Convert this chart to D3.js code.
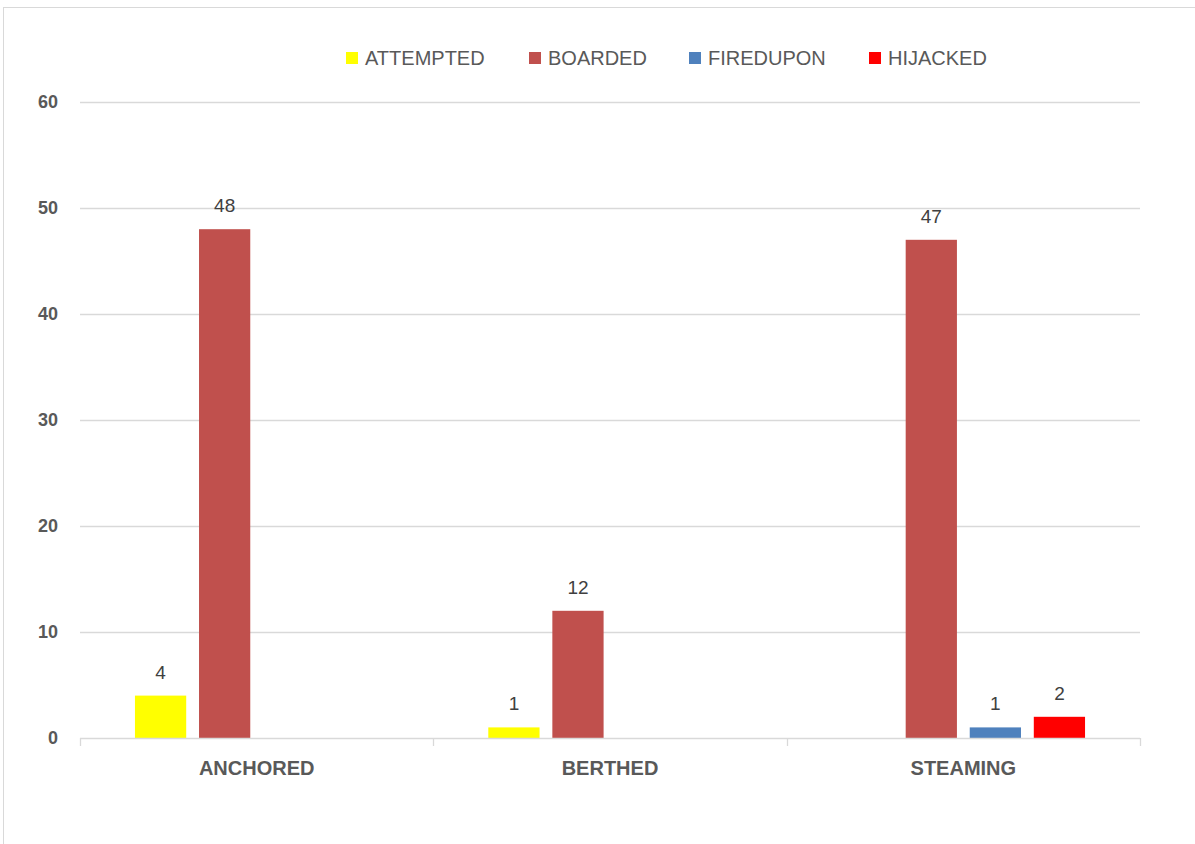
<!DOCTYPE html>
<html><head><meta charset="utf-8">
<script src="https://cdn.jsdelivr.net/npm/d3@7"></script>
<style>body{margin:0;background:#fff}svg{display:block}text{font-family:"Liberation Sans",Arial,sans-serif}</style>
</head><body>
<svg id="c" width="1195" height="844"></svg>
<script>
const categories = ["ANCHORED", "BERTHED", "STEAMING"];
const seriesNames = ["ATTEMPTED", "BOARDED", "FIREDUPON", "HIJACKED"];
const seriesColors = ["#ffff00", "#c0504d", "#4f81bd", "#ff0000"];
const attempted = [4, 1, null];
const boarded = [48, 12, 47];
const firedupon = [null, null, 1];
const hijacked = [null, null, 2];
const yTicks = [0, 10, 20, 30, 40, 50, 60];

const seriesValues = [attempted, boarded, firedupon, hijacked];
const svg = d3.select("#c");
const plot = {left: 80, right: 1140, top: 102, bottom: 738};

svg.append("rect").attr("x", 3.5).attr("y", 7.5).attr("width", 1200).attr("height", 900)
  .attr("fill", "#fff").attr("stroke", "#d9d9d9").attr("stroke-width", 1);

const x0 = d3.scaleBand().domain(categories).range([plot.left, plot.right]).padding(0);
const x1 = d3.scaleBand().domain(seriesNames).range([0, x0.bandwidth()])
  .paddingInner(0.2).paddingOuter(0.858);
const y = d3.scaleLinear().domain([0, 60]).range([plot.bottom, plot.top]);

// gridlines
svg.append("g").selectAll("line").data(yTicks.filter(d => d > 0)).join("line")
  .attr("x1", plot.left).attr("x2", plot.right)
  .attr("y1", d => Math.round(y(d)) + 0.5).attr("y2", d => Math.round(y(d)) + 0.5)
  .attr("stroke", "#d9d9d9").attr("stroke-width", 1.3);

// y labels
svg.append("g").selectAll("text").data(yTicks).join("text")
  .attr("x", 58).attr("y", d => y(d)).attr("dy", "0.35em")
  .attr("text-anchor", "end").attr("font-size", 18).attr("font-weight", "bold")
  .attr("fill", "#595959").text(d => d);

// bars
const flat = [];
categories.forEach((c, i) => seriesNames.forEach((s, j) => {
  const v = seriesValues[j][i];
  if (v != null) flat.push({c, s, v, color: seriesColors[j]});
}));
svg.append("g").selectAll("rect").data(flat).join("rect")
  .attr("x", d => x0(d.c) + x1(d.s)).attr("width", x1.bandwidth())
  .attr("y", d => y(d.v)).attr("height", d => y(0) - y(d.v))
  .attr("fill", d => d.color);

// data labels
svg.append("g").selectAll("text").data(flat).join("text")
  .attr("x", d => x0(d.c) + x1(d.s) + x1.bandwidth() / 2)
  .attr("y", d => y(d.v) - 17)
  .attr("text-anchor", "middle").attr("font-size", 19).attr("fill", "#404040")
  .text(d => d.v);

// x axis
const xAxis = svg.append("g");
xAxis.append("line").attr("x1", plot.left).attr("x2", plot.right)
  .attr("y1", plot.bottom + 0.5).attr("y2", plot.bottom + 0.5)
  .attr("stroke", "#d9d9d9").attr("stroke-width", 1.3);
const edges = categories.map(c => x0(c)).concat([x0(categories[categories.length - 1]) + x0.bandwidth()]);
xAxis.selectAll("line.tick").data(edges).join("line").attr("class", "tick")
  .attr("x1", d => Math.round(d) + 0.5).attr("x2", d => Math.round(d) + 0.5)
  .attr("y1", plot.bottom).attr("y2", plot.bottom + 8)
  .attr("stroke", "#d9d9d9").attr("stroke-width", 1.3);
xAxis.selectAll("text").data(categories).join("text")
  .attr("x", d => x0(d) + x0.bandwidth() / 2).attr("y", 775)
  .attr("text-anchor", "middle").attr("font-size", 20).attr("font-weight", "bold")
  .attr("fill", "#595959").text(d => d);

// legend
const legendX = [346, 529, 689, 869];
const lg = svg.append("g").selectAll("g").data(seriesNames).join("g")
  .attr("transform", (d, i) => `translate(${legendX[i]},58)`);
lg.append("rect").attr("x", 0).attr("y", -6).attr("width", 12).attr("height", 12)
  .attr("fill", (d, i) => seriesColors[i]);
lg.append("text").attr("x", 19).attr("y", 0).attr("dy", "0.35em")
  .attr("font-size", 20).attr("fill", "#595959").text(d => d);
</script>
</body></html>
